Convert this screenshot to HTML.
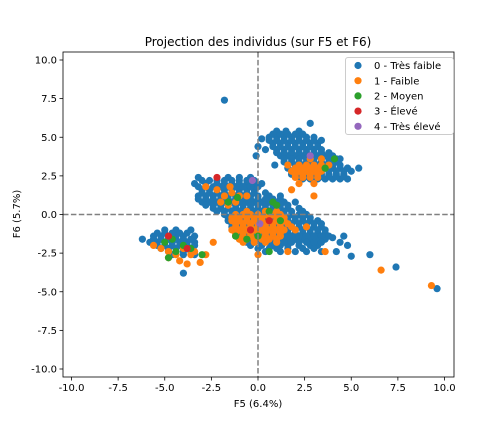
<!DOCTYPE html>
<html><head><meta charset="utf-8"><style>
body{margin:0;background:#fff;}
svg text{font-family:"DejaVu Sans","Liberation Sans",sans-serif;fill:#000;}
</style></head><body>
<svg id="chart" width="504" height="432" xmlns="http://www.w3.org/2000/svg">
<rect x="0" y="0" width="504" height="432" fill="#fff"/>
<text x="258" y="46" text-anchor="middle" font-size="12">Projection des individus (sur F5 et F6)</text>
<g id="plot"></g>
<text x="258" y="407" text-anchor="middle" font-size="10">F5 (6.4%)</text>
<text x="20" y="214" text-anchor="middle" font-size="10" transform="rotate(-90 20 214)">F6 (5.7%)</text>
</svg>
<script>
const xTicks=[-10,-7.5,-5,-2.5,0,2.5,5,7.5,10];
const yTicks=[-10,-7.5,-5,-2.5,0,2.5,5,7.5,10];
const classNames=["0 - Très faible","1 - Faible","2 - Moyen","3 - Élevé","4 - Très élevé"];
const classColors=["#1f77b4","#ff7f0e","#2ca02c","#d62728","#9467bd"];
// rows: [y, [x...]]
const blueRows=[
[5.4,[1.0,1.5,2.2]],[5.0,[0.6,1.0,1.4,1.8,2.2,2.6,3.0]],[4.6,[0.8,1.2,1.6,2.0,2.4,2.8,3.2]],
[4.2,[0.4,1.0,1.4,1.8,2.2,2.6,3.0,3.4]],[3.8,[1.2,1.6,2.0,2.4,2.8,3.2,3.6,4.0]],
[3.4,[1.4,1.8,2.2,2.6,3.0,3.4,3.8,4.2]],[3.0,[1.6,2.0,2.4,2.8,3.2,3.6,4.0,4.4,4.8,5.4]],
[2.6,[1.8,2.2,2.6,3.0,3.4,3.8,4.2,4.6]],[2.3,[2.4,2.8,3.2,3.6,4.0,4.4,4.8]],
[5.2,[0.8,1.2,1.6,2.0,2.4]],[4.8,[0.6,1.0,1.4,1.8,2.2,2.6,3.0,3.4]],[4.4,[0.8,1.2,1.6,2.0,2.4,2.8,3.2]],
[4.0,[1.0,1.4,1.8,2.2,2.6,3.0,3.4,3.8]],[3.6,[1.4,1.8,2.2,2.6,3.0,3.4,3.8,4.2,4.4]],
[3.2,[1.6,2.0,2.4,2.8,3.2,3.6,4.0,4.4]],[2.8,[1.8,2.2,2.6,3.0,3.4,3.8,4.2,4.6,5.0]],
[2.45,[2.2,2.6,3.0,3.4,3.8,4.2,4.6]],
[2.4,[-3.2,-1.6,-1.0,-0.4]],[2.0,[-3.4,-2.8,-2.2,-1.8,-1.4,-1.0,-0.6,-0.2,0.2]],
[1.6,[-3.0,-2.6,-2.2,-1.8,-1.4,-1.0,-0.6,-0.2]],
[1.2,[-3.2,-2.8,-2.4,-2.0,-1.6,-1.2,-0.8,-0.4,0.0,0.6,1.2]],
[0.8,[-3.0,-2.6,-2.2,-1.8,-1.4,-1.0,-0.6,-0.2,0.2,0.6,1.0,1.4,2.0]],
[0.4,[-2.4,-2.0,-1.6,-1.2,-0.8,-0.4,0.0,0.4,0.8,1.2,1.6,2.2]],
[0.0,[-1.8,-1.4,-1.0,-0.6,-0.2,0.2,0.6,1.0,1.4,1.8,2.2,2.6]],
[-0.4,[-1.6,-1.2,-0.8,-0.4,0.0,0.4,0.8,1.2,1.6,2.0,2.4,2.8,3.2]],
[-0.8,[-1.4,-1.0,-0.6,-0.2,0.2,0.6,1.0,1.4,1.8,2.2,2.6,3.0,3.4]],
[-1.2,[-1.2,-0.8,-0.4,0.0,0.4,0.8,1.2,1.6,2.0,2.4,2.8,3.2,3.6]],
[-1.6,[-0.8,-0.4,0.0,0.4,0.8,1.2,1.6,2.0,2.4,2.8,3.2,3.6]],
[-2.0,[-0.4,0.2,0.8,1.2,1.6,2.2,2.8,3.2]],[-2.4,[0.4,1.2,2.0,2.6,3.4]],
[2.2,[-3.0,-2.6,-2.2,-1.8,-1.4,-1.0,-0.6,-0.2]],
[1.8,[-3.2,-2.8,-2.4,-2.0,-1.6,-1.2,-0.8,-0.4,0.0]],
[1.4,[-3.0,-2.6,-2.2,-1.8,-1.4,-1.0,-0.6,-0.2,0.4]],
[1.0,[-3.2,-2.8,-2.4,-2.0,-1.6,-1.2,-0.8,-0.4,0.0,0.4,0.8,1.2]],
[0.6,[-2.8,-2.4,-2.0,-1.6,-1.2,-0.8,-0.4,0.0,0.4,0.8,1.2,1.6]],
[0.2,[-2.2,-1.8,-1.4,-1.0,-0.6,-0.2,0.2,0.6,1.0,1.4,1.8,2.4]],
[-0.2,[-1.6,-1.2,-0.8,-0.4,0.0,0.4,0.8,1.2,1.6,2.0,2.4,2.8]],
[-0.6,[-1.4,-1.0,-0.6,-0.2,0.2,0.6,1.0,1.4,1.8,2.2,2.6,3.0,3.4]],
[-1.0,[-1.2,-0.8,-0.4,0.0,0.4,0.8,1.2,1.6,2.0,2.4,2.8,3.2,3.6]],
[-1.4,[-1.0,-0.6,-0.2,0.2,0.6,1.0,1.4,1.8,2.2,2.6,3.0,3.4,3.8]],
[-1.8,[-0.6,-0.2,0.2,0.6,1.0,1.4,1.8,2.2,2.6,3.0,3.4]],
[-2.2,[0.0,0.6,1.0,1.6,2.4,3.0]],
[-1.0,[-5.0,-4.4,-3.6]],[-1.4,[-5.6,-5.2,-4.8,-4.4,-4.0,-3.4]],
[-1.8,[-5.8,-5.4,-5.0,-4.6,-4.2,-3.8,-3.4]],[-2.2,[-5.2,-4.8,-4.4,-4.0,-3.6]],[-2.6,[-4.6,-4.0,-3.4]],
[-1.2,[-5.4,-5.0,-4.6,-4.2,-3.8]],[-1.6,[-5.6,-5.2,-4.8,-4.4,-4.0,-3.6]],
[-2.0,[-5.4,-5.0,-4.6,-4.2,-3.8,-3.4]],[-2.4,[-4.8,-4.4,-4.0,-3.6]]
];
const blueX=[-1.8,2.8,0.2,0.0,-0.1,0.9,4.8,4.0,4.4,4.8,5.0,4.2,6.0,7.4,9.6,4.6,-4.0,-6.2];
const blueY=[7.4,5.9,4.9,4.4,3.8,3.2,3.0,-1.5,-1.8,-2.0,-2.7,-2.4,-2.6,-3.4,-4.8,-1.4,-3.8,-1.6];
const orangeRows=[
[0.2,[-0.6,0.4,1.0]],[-0.2,[-1.4,-1.0,-0.6,-0.2,0.2,0.6,1.0,1.4]],
[-0.6,[-1.2,-0.8,-0.4,0.0,0.4,0.8,1.2,1.6]],[-1.0,[-1.4,-1.0,-0.6,-0.2,0.2,0.6,1.0,1.4,2.0]],
[-1.4,[-1.2,-0.8,-0.4,0.0,0.4,0.8,1.2]],[-1.8,[-0.8,-0.2,0.4,1.0]],
[0.0,[-1.2,-0.8,-0.4,0.0,0.4,0.8,1.2]],[-0.4,[-1.4,-1.0,-0.6,-0.2,0.2,0.6,1.0,1.4]],
[-0.8,[-1.2,-0.8,-0.4,0.0,0.4,0.8,1.2,1.8]],[-1.2,[-1.2,-0.8,-0.4,0.0,0.4,0.8,1.2]],
[-1.6,[-1.0,-0.6,-0.2,0.2,0.6,1.0]],
[3.6,[2.8,3.4]],[3.2,[1.6,2.2,2.6,3.0,3.4,3.8]],[2.8,[1.8,2.2,2.6,3.0,3.4]],
[2.4,[2.0,2.4,2.8,3.2]],[2.0,[2.2,3.0]],[3.0,[2.0,2.4,2.8,3.2,3.6]],[2.6,[2.0,2.4,2.8,3.2]]
];
const orangeX=[9.3,6.6,-2.4,-2.8,-3.1,0.0,-1.2,-1.5,-2.8,3.6,2.6,1.6,-1.8,-1.4,-1.0,-0.6,-2.0,-1.6,-2.2,-1.2,-5.2,-4.8,-4.4,-4.0,-3.6,-4.8,-4.2,-3.4,-5.6,-3.8,1.8,3.0];
const orangeY=[-4.6,-3.6,-1.8,-2.6,-3.1,-2.6,-0.4,1.8,1.8,-2.4,-0.8,-2.4,1.2,1.4,1.2,1.2,0.8,0.6,1.6,0.8,-2.2,-2.4,-2.6,-2.2,-2.6,-2.8,-3.0,-2.4,-2.0,-3.2,1.6,1.2];
const greenX=[-1.6,-1.1,0.8,1.0,0.6,1.2,-1.2,-0.6,0.0,0.6,3.6,4.1,-4.6,-4.4,-4.0,-4.8,-3.6,-3.0,-5.0];
const greenY=[0.8,1.1,0.8,0.6,0.2,-0.4,-1.4,-1.6,-1.4,-2.4,3.0,3.6,-1.6,-2.4,-2.0,-2.8,-2.2,-2.6,-1.8];
const redX=[-2.2,0.6,-0.4,-4.8,-3.8];
const redY=[2.4,-0.4,-1.0,-1.4,-2.2];
const purpleX=[-0.3,0.1,2.8];
const purpleY=[2.2,-0.6,3.8];

const L=63,R=454,T=52,B=377;
const xs=v=>258+v*18.65;
const ys=v=>214.5-v*15.45;
const NS="http://www.w3.org/2000/svg";
const plot=document.getElementById('plot');
function mk(tag,attrs,parent){const e=document.createElementNS(NS,tag);for(const k in attrs)e.setAttribute(k,attrs[k]);(parent||plot).appendChild(e);return e;}
const clip=mk('clipPath',{id:'cp'});mk('rect',{x:L,y:T,width:R-L,height:B-T},clip);
const g=mk('g',{'clip-path':'url(#cp)'});
function seriesG(rows,px,py,c,name){
  const add=(x,y)=>{const e=mk('circle',{cx:xs(x),cy:ys(y),r:3.6,fill:classColors[c]},g);
    
    };
  rows.forEach(r=>r[1].forEach(x=>add(x,r[0])));
  px.forEach((x,i)=>add(x,py[i]));
}
seriesG(blueRows,blueX,blueY,0,'point-tres-faible');
seriesG(orangeRows,orangeX,orangeY,1,'point-faible');
seriesG([],greenX,greenY,2,'point-moyen');
seriesG([],redX,redY,3,'point-eleve');
seriesG([],purpleX,purpleY,4,'point-tres-eleve');
let e=mk('line',{x1:xs(0),x2:xs(0),y1:T,y2:B,stroke:'#808080','stroke-width':1.5,'stroke-dasharray':'5.5,2.4'});


e=mk('line',{x1:L,x2:R,y1:ys(0),y2:ys(0),stroke:'#808080','stroke-width':1.5,'stroke-dasharray':'5.5,2.4'});


e=mk('rect',{x:L,y:T,width:R-L,height:B-T,fill:'none',stroke:'#000','stroke-width':0.8});


xTicks.forEach(v=>{
  mk('line',{x1:xs(v),x2:xs(v),y1:B,y2:B+3.5,stroke:'#000','stroke-width':0.8});
  const t=mk('text',{x:xs(v),y:B+14,'text-anchor':'middle','font-size':10});
  t.textContent=v.toFixed(1);
  
  
});
yTicks.forEach(v=>{
  mk('line',{x1:L-3.5,x2:L,y1:ys(v),y2:ys(v),stroke:'#000','stroke-width':0.8});
  const t=mk('text',{x:L-6,y:ys(v)+3.5,'text-anchor':'end','font-size':10});
  t.textContent=v.toFixed(1);
  
  
});
const lg=mk('g',{});


mk('rect',{x:345.5,y:57.5,width:108,height:77,rx:2.5,fill:'#fff','fill-opacity':0.8,stroke:'#ccc'},lg);
classNames.forEach((n,i)=>{
  const y=65.5+i*15.2;
  const it=mk('g',{},lg);
  
  
  mk('circle',{cx:358,cy:y,r:3.6,fill:classColors[i]},it);
  const t=mk('text',{x:374,y:y+3.6,'font-size':10},it);
  t.textContent=n;
});
</script>
</body></html>
